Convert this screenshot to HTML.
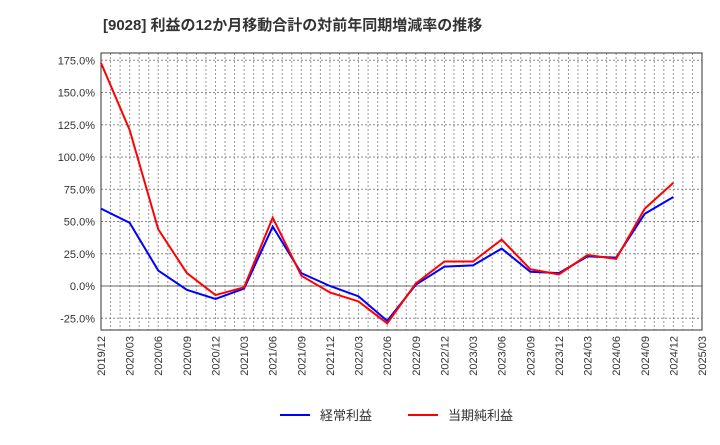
<!DOCTYPE html>
<html><head><meta charset="utf-8"><style>
body{margin:0;background:#fff;font-family:"Liberation Sans","Noto Sans CJK JP",sans-serif;}
svg text{font-family:"Liberation Sans","Noto Sans CJK JP",sans-serif;}
</style></head><body>
<svg id="c" width="720" height="440">
<text x="103" y="30" font-size="15" font-weight="bold" fill="#333">[9028]  利益の12か月移動合計の対前年同期増減率の推移</text>
<g id="grid"></g><g id="axes"></g><g id="series"></g>
<g>
<line x1="280" y1="415" x2="310" y2="415" stroke="#00f" stroke-width="2"/>
<text x="320" y="420" font-size="13" fill="#333">経常利益</text>
<line x1="408" y1="415" x2="438" y2="415" stroke="#f00" stroke-width="2"/>
<text x="448" y="420" font-size="13" fill="#333">当期純利益</text>
</g>
</svg>
<script>
const xLabels=["2019/12","2020/03","2020/06","2020/09","2020/12","2021/03","2021/06","2021/09","2021/12","2022/03","2022/06","2022/09","2022/12","2023/03","2023/06","2023/09","2023/12","2024/03","2024/06","2024/09","2024/12","2025/03"];
const yTicks=[-25,0,25,50,75,100,125,150,175];
const ordinary=[60,49,12,-3,-10,-2,46,10,0,-8,-27,1,15,16,29,11,10,23,22,56,69];
const net=[173,121,44,10,-7,-1,53,8,-5,-12,-29,2,19,19,36,13,9,24,21,60,80];
const L=101,R=702,T=53,B=330;
const NS="http://www.w3.org/2000/svg";
const X=q=>L+q*(R-L)/21;
const Y=v=>286-v*1.29;
function mk(p,tag,at){const e=document.createElementNS(NS,tag);for(const k in at)e.setAttribute(k,at[k]);document.getElementById(p).appendChild(e);return e;}
for(let m=1;m<63;m++){const x=L+m*(R-L)/63;
const g=mk('grid','line',{x1:x,x2:x,y1:T,y2:B,stroke:'#999','stroke-dasharray':'2,2','stroke-width':1});

}
yTicks.forEach(v=>{const y=Y(v);
const g=mk('grid','line',{x1:L,x2:R,y1:y,y2:y,stroke:v===0?'#666':'#888','stroke-dasharray':v===0?'':'2,2','stroke-width':1});


const t=mk('axes','text',{x:L-6,y:y+4,'text-anchor':'end','font-size':11,fill:'#333'});t.textContent=v.toFixed(1)+'%';

});
xLabels.forEach((s,i)=>{const x=X(i);
const t=mk('axes','text',{x:x+4,y:B+6,'text-anchor':'end','font-size':11,fill:'#333',transform:`rotate(-90 ${x+4} ${B+6})`});t.textContent=s;

});
const f=mk('axes','rect',{x:L,y:T,width:R-L,height:B-T,fill:'none',stroke:'#333','stroke-width':1});


[[ordinary,'#00f','series-ordinary-profit'],[net,'#f00','series-net-profit']].forEach(([d,c,n])=>{
const p=mk('series','polyline',{points:d.map((v,i)=>X(i)+','+Y(v)).join(' '),fill:'none',stroke:c,'stroke-width':2});

});
</script>
</body></html>
